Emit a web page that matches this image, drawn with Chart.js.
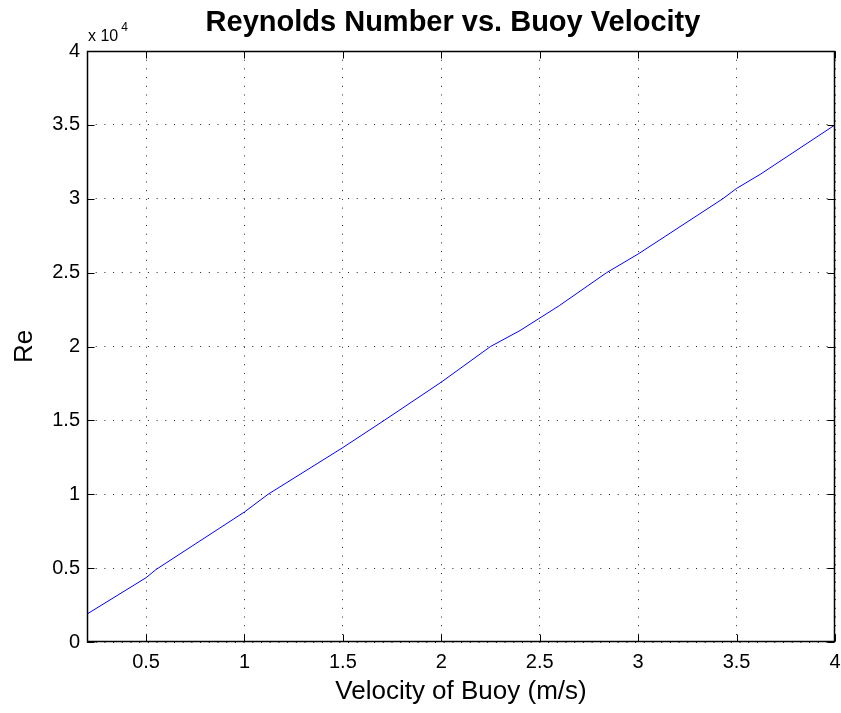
<!DOCTYPE html>
<html>
<head>
<meta charset="utf-8">
<script src="https://cdn.jsdelivr.net/npm/chart.js@4"></script>
<style>
html,body{margin:0;padding:0;background:#fff;}
canvas{display:block;}
</style>
</head>
<body>
<canvas id="c" width="841" height="713"></canvas>
<script>
const velocity = [0.2, 0.5, 0.55, 1.0, 1.12, 1.5, 1.71, 2.0, 2.25, 2.4, 2.6, 2.84, 3.0, 3.43, 3.5, 3.62, 4.0];
const reynolds = [1890, 4350, 4900, 8800, 10000, 13160, 15000, 17590, 20000, 21080, 22770, 25000, 26260, 30000, 30700, 31650, 35000];
const xTicks = [0.5, 1, 1.5, 2, 2.5, 3, 3.5, 4];
const yTicks = [0, 5000, 10000, 15000, 20000, 25000, 30000, 35000, 40000];
const titleText = 'Reynolds Number vs. Buoy Velocity';
const xLabel = 'Velocity of Buoy (m/s)';
const yLabel = 'Re';

const FONT = '"Liberation Sans", Arial, Helvetica, sans-serif';

const boxPlugin = {
  id: 'box',
  afterDraw(chart) {
    const ctx = chart.ctx;
    const a = chart.chartArea;
    const xs = chart.scales.x, ys = chart.scales.y;
    ctx.save();
    ctx.strokeStyle = '#000';
    ctx.setLineDash([]);
    const L = Math.round(a.left) + 0.5, R = Math.round(a.right) - 0.5;
    const T = Math.round(a.top) + 0.5, B = Math.round(a.bottom) - 0.5;
    ctx.lineWidth = 1.5;
    ctx.strokeRect(L, T, R - L, B - T);
    ctx.lineWidth = 1;
    const tl = 7;
    ctx.beginPath();
    xTicks.forEach(v => {
      const px = Math.round(xs.getPixelForValue(v)) + 0.5;
      ctx.moveTo(px, B); ctx.lineTo(px, B - tl);
      ctx.moveTo(px, T); ctx.lineTo(px, T + tl);
    });
    yTicks.forEach(v => {
      const py = Math.round(ys.getPixelForValue(v)) + 0.5;
      ctx.moveTo(L, py); ctx.lineTo(L + tl, py);
      ctx.moveTo(R, py); ctx.lineTo(R - tl, py);
    });
    ctx.stroke();
    // title
    ctx.fillStyle = '#000';
    ctx.textAlign = 'center';
    ctx.textBaseline = 'middle';
    ctx.font = 'bold 29px ' + FONT;
    ctx.fillText(titleText, 453, 23);
    // exponent
    ctx.textAlign = 'left';
    ctx.textBaseline = 'alphabetic';
    ctx.font = '16px ' + FONT;
    ctx.fillText('x 10', 88, 41);
    const w = ctx.measureText('x 10').width;
    ctx.font = '12px ' + FONT;
    ctx.fillText('4', 88 + w + 3, 31);
    ctx.restore();
  }
};

new Chart(document.getElementById('c'), {
  type: 'line',
  data: {
    datasets: [{
      data: velocity.map((v, i) => ({x: v, y: reynolds[i]})),
      borderColor: '#0000ff',
      borderWidth: 1,
      pointRadius: 0,
      fill: false,
      tension: 0
    }]
  },
  options: {
    responsive: false,
    animation: false,
    layout: {padding: {top: 51, right: 6, left: 0, bottom: 0}},
    plugins: {legend: {display: false}, tooltip: {enabled: false}, title: {display: false}},
    scales: {
      x: {
        type: 'linear', min: 0.2, max: 4,
        afterBuildTicks: s => { s.ticks = xTicks.map(v => ({value: v})); },
        afterFit: s => { s.height = 71; s.paddingLeft = 0; s.paddingRight = 0; },
        grid: {drawTicks: false, color: '#222', lineWidth: 1},
        border: {display: false, dash: [1, 7.7]},
        ticks: {padding: 8, color: '#000', font: {family: FONT, size: 20}, maxRotation: 0, autoSkip: false,
          callback: v => String(v)},
        title: {display: true, text: xLabel, color: '#000', font: {family: FONT, size: 26, lineHeight: 1.2}, padding: {top: 0, bottom: 6}}
      },
      y: {
        type: 'linear', min: 0, max: 40000,
        afterBuildTicks: s => { s.ticks = yTicks.map(v => ({value: v})); },
        afterFit: s => { s.width = 87; s.paddingTop = 0; s.paddingBottom = 0; },
        grid: {drawTicks: false, color: '#222', lineWidth: 1},
        border: {display: false, dash: [1, 7.7]},
        ticks: {padding: 7, color: '#000', font: {family: FONT, size: 20}, autoSkip: false,
          callback: v => String(v / 10000)},
        title: {display: true, text: yLabel, color: '#000', font: {family: FONT, size: 26, lineHeight: 1.2}, padding: {top: 9, bottom: 0}}
      }
    }
  },
  plugins: [boxPlugin]
});
</script>
</body>
</html>
